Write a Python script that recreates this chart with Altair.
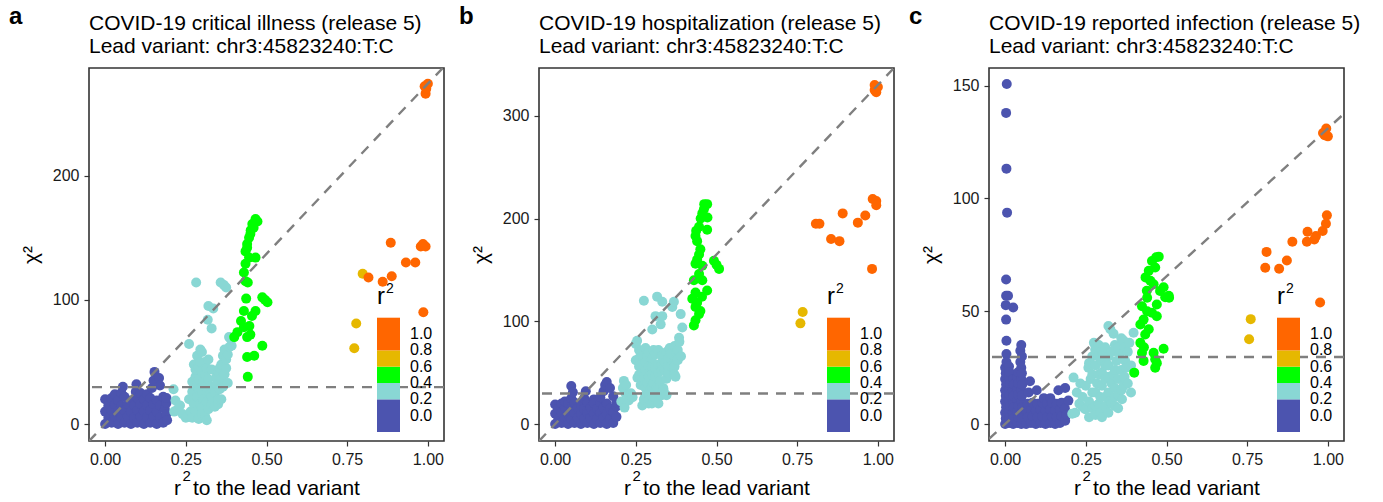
import altair as alt
import pandas as pd

FONT = "Liberation Sans"
COLORS = ["#4C54AF", "#89D7D4", "#00FF00", "#E6B800", "#FF6600"]
THRESHOLDS = [0.2, 0.4, 0.6, 0.8]
X_TICKS = [0, 0.25, 0.5, 0.75, 1.0]
X_DOMAIN = [-0.05, 1.05]
GW_CHI2 = 29.72

TITLES = ["COVID-19 critical illness (release 5)",
          "COVID-19 hospitalization (release 5)",
          "COVID-19 reported infection (release 5)"]
LEAD = "Lead variant: chr3:45823240:T:C"
LETTERS = ["a", "b", "c"]
X_TITLE = ["r", "2", "to the lead variant"]
Y_TITLE = "χ²"
Y_TICKS = [[0, 100, 200], [0, 100, 200, 300], [0, 50, 100, 150]]
Y_DOMAINS = [[-13.65, 286.65], [-16.5, 346.5], [-7.5, 157.8]]
DIAG_X = [-0.05, 1.05]
DIAG_SLOPES = [274, 330, 131]

# ---------------- panel a: critical illness ----------------
A_BLUE = [(0.00,0),(0.02,1),(0.04,0),(0.06,1),(0.08,0),(0.10,1),(0.12,0),(0.14,1),(0.16,0),(0.18,1),(0.192,3),
          (0.01,5),(0.03,6),(0.05,5),(0.07,6),(0.09,5),(0.11,6),(0.13,5),(0.15,6),(0.17,5),(0.19,8),
          (0.00,10),(0.02,11),(0.04,10),(0.06,11),(0.08,10),(0.10,11),(0.12,10),(0.14,11),(0.16,10),(0.185,12),
          (0.01,15),(0.03,16),(0.05,15),(0.07,16),(0.09,15),(0.11,16),(0.13,15),(0.15,16),(0.17,15),(0.19,17),
          (0.00,20),(0.02,21),(0.04,19),(0.06,22),(0.08,19),(0.10,21),(0.12,20),(0.14,21),(0.16,19),(0.18,22),
          (0.03,24),(0.05,25),(0.055,30),(0.095,26),(0.097,32),(0.11,25),(0.13,24),(0.145,29),(0.15,35),
          (0.153,42),(0.167,37),(0.17,31),(0.19,21)]
A_CYAN = [(0.212,28),(0.218,19),(0.225,12),(0.24,8),(0.232,15),(0.25,5),(0.214,10),
          (0.27,5),(0.28,10),(0.29,4),(0.30,8),(0.31,6),(0.32,12),(0.275,16),(0.285,22),(0.295,16),
          (0.305,20),(0.315,18),(0.30,26),(0.285,30),(0.31,30),(0.27,34),(0.29,36),(0.30,42),(0.28,44),
          (0.31,40),(0.275,48),(0.295,50),(0.285,55),(0.30,58),(0.32,52),(0.27,26),
          (0.33,22),(0.34,25),(0.35,20),(0.355,28),(0.345,32),(0.36,36),(0.37,40),(0.35,42),(0.36,48),
          (0.375,52),(0.38,56),(0.385,62),(0.39,68),(0.37,60),(0.355,45),(0.34,14),(0.35,16),(0.38,33),
          (0.325,30),(0.33,44),
          (0.265,10),(0.275,20),(0.29,28),(0.305,34),(0.315,45),(0.29,46),(0.32,36),(0.325,24),(0.28,38),
          (0.295,60),(0.31,50),(0.30,13),(0.315,3),(0.26,20),(0.33,16),(0.345,38),(0.365,30),(0.36,20),
          (0.375,45),(0.365,55),
          (0.26,64.5),(0.282,114),(0.358,114),(0.368,112),(0.375,110),(0.32,95),(0.335,93),(0.318,84),
          (0.33,77),(0.384,70),(0.392,63)]
A_GREEN = [(0.466,165),(0.472,163),(0.456,161),(0.451,156),(0.446,150),(0.44,145),(0.435,139),(0.446,134),
           (0.466,134),(0.435,129),(0.43,122),(0.435,115),(0.46,158),(0.45,153),(0.44,142),
           (0.442,114),(0.437,101),(0.487,102),(0.503,98),(0.43,91),(0.466,91),(0.421,83),(0.447,79),
           (0.41,74),(0.40,70),(0.44,70),(0.487,63),(0.462,55),(0.44,54),(0.442,38),(0.455,87),(0.43,78),
           (0.45,72),(0.495,100)]
A_YELLOW = [(0.798,121),(0.778,81),(0.772,61)]
A_ORANGE = [(0.99,272),(0.995,270),(0.993,266),(1.0,274),(0.885,146),(0.978,143),(0.993,143),(0.985,145),
            (0.932,130),(0.961,130),(0.816,118),(0.86,114.5),(0.888,119),(0.986,90)]

# ---------------- panel b: hospitalization ----------------
B_BLUE = [(0.00,0),(0.02,1),(0.04,0),(0.06,1),(0.08,0),(0.10,1),(0.12,0),(0.14,1),(0.16,0),(0.18,1),
          (0.01,5),(0.03,6),(0.05,5),(0.07,6),(0.09,5),(0.11,6),(0.13,5),(0.15,6),(0.17,5),(0.19,7),
          (0.00,10),(0.02,11),(0.04,10),(0.06,11),(0.08,10),(0.10,11),(0.12,10),(0.14,11),(0.16,10),(0.18,12),
          (0.01,15),(0.03,16),(0.05,15),(0.07,16),(0.09,15),(0.11,16),(0.13,15),(0.15,16),(0.17,15),(0.19,17),
          (0.00,19),(0.02,20),(0.04,20),(0.06,21),(0.08,19),(0.10,21),(0.12,20),(0.14,21),(0.16,20),
          (0.05,25),(0.055,31),(0.05,37),(0.09,25),(0.095,32),(0.14,26),(0.15,32),(0.155,38),(0.16,41),
          (0.17,35),(0.18,27),(0.19,21),(0.12,24),(0.03,22)]
B_CYAN = [(0.25,78),(0.26,72),(0.27,66),(0.28,74),(0.29,70),(0.30,64),(0.31,68),(0.32,72),(0.33,66),(0.34,60),
          (0.35,64),(0.36,68),(0.37,76),(0.385,80),(0.375,70),(0.36,56),(0.35,50),(0.37,48),(0.38,62),(0.39,66),
          (0.345,44),(0.33,52),(0.32,58),(0.31,54),(0.30,48),(0.29,56),(0.28,60),(0.27,50),(0.26,56),(0.25,62),
          (0.255,45),(0.265,38),(0.275,44),(0.285,40),(0.295,34),(0.305,40),(0.315,36),(0.325,42),(0.335,35),
          (0.345,28),(0.33,28),(0.31,26),(0.29,24),(0.28,28),(0.27,18),(0.30,20),(0.32,20),(0.336,33),
          (0.373,46),(0.378,63),(0.368,55),
          (0.26,64),(0.27,58),(0.28,52),(0.29,46),(0.30,56),(0.31,46),(0.32,50),(0.33,58),(0.34,52),(0.35,57),
          (0.36,62),(0.37,56),(0.28,35),(0.29,30),(0.30,36),(0.31,31),(0.32,34),(0.325,28),(0.30,27),
          (0.26,48),(0.265,70),(0.285,66),(0.305,72),(0.345,70),(0.355,74),(0.38,72),(0.29,20),(0.275,24),
          (0.213,42),(0.218,30),(0.228,23),(0.21,35),(0.22,38),(0.235,30),(0.24,26),(0.205,22),(0.215,16),
          (0.275,120),(0.316,124),(0.332,119),(0.368,119),(0.363,114),(0.311,105),(0.332,105),(0.301,92),
          (0.327,97),(0.389,107),(0.394,94),(0.384,84),(0.254,81)]
B_GREEN = [(0.471,214),(0.461,209),(0.456,205),(0.462,214),(0.451,200),(0.446,192),(0.471,189),(0.435,183),
           (0.44,178),(0.472,201),(0.437,188),(0.446,165),(0.435,156),(0.456,154),(0.492,159),(0.508,151),
           (0.50,155),(0.446,146),(0.43,140),(0.456,140),(0.471,130),(0.435,128),(0.425,122),(0.435,114),
           (0.446,107),(0.435,101),(0.43,96),(0.44,118),(0.45,110),(0.455,124),(0.44,160),(0.45,170)]
B_YELLOW = [(0.767,109),(0.76,98)]
B_ORANGE = [(0.99,330),(1.0,328),(0.99,325),(0.995,323),(0.984,219),(0.995,213),(0.995,217),(0.891,205),
            (0.961,203),(0.938,196),(0.808,195),(0.819,195),(0.855,180),(0.881,178),(0.982,151)]

# ---------------- panel c: reported infection ----------------
C_BLUE = [(0.005,150.7),(0.003,137.9),(0.004,113.2),(0.006,93.7),(0.003,64.1),(0.003,56.9),(0.009,56.9),
          (0.002,52.7),(0.025,51.7),(0.003,46.3),(0.004,36.9),(0.004,31),
          (0.0,0),(0.012,0.5),(0.025,0),(0.038,0.5),(0.05,0),
          (0.002,2.5),(0.014,3),(0.026,2.5),(0.04,3),(0.052,2.5),
          (0.0,5),(0.012,5.5),(0.024,5),(0.037,5.5),(0.05,5),
          (0.003,7.5),(0.015,8),(0.027,7.5),(0.04,8),(0.053,7.5),
          (0.0,10),(0.012,10.5),(0.025,10),(0.038,10.5),(0.05,10),
          (0.002,12.5),(0.014,13),(0.026,12.5),(0.04,13),(0.052,12.5),
          (0.0,15),(0.012,15.5),(0.024,15),(0.038,15.5),(0.05,15),
          (0.003,17.5),(0.015,18),(0.027,17.5),(0.04,18),(0.053,17.5),
          (0.0,20),(0.012,20.5),(0.025,20),(0.038,20.5),(0.05,20),
          (0.002,22.5),(0.014,23),(0.04,23),(0.052,22.5),
          (0.0,25),(0.012,25.5),(0.05,25),(0.004,27.5),(0.047,27.5),(0.052,30),(0.047,32.5),(0.05,35),
          (0.065,0),(0.08,0.5),(0.095,0),(0.11,0.5),(0.125,0),(0.14,0.5),(0.155,0),(0.17,0.5),(0.186,1.5),
          (0.07,3),(0.085,3.5),(0.10,3),(0.115,3.5),(0.13,3),(0.145,3.5),(0.16,3),(0.175,3.5),(0.19,4),
          (0.065,6),(0.08,6.5),(0.095,6),(0.11,6.5),(0.125,6),(0.14,6.5),(0.155,6),(0.17,6.5),(0.185,7),
          (0.07,9),(0.085,9.5),(0.10,9),(0.115,9.5),(0.13,9),(0.145,9.5),(0.16,9),(0.175,9.5),(0.196,10.4),
          (0.077,19),(0.073,14),(0.098,15),(0.165,15),(0.186,16),(0.12,11.5),(0.14,11.5)]
C_CYAN = [(0.326,42),(0.32,43.5),(0.336,40),(0.398,40.5),(0.367,37),(0.279,33),(0.305,31),
          (0.212,20.6),(0.222,14),(0.217,5),(0.23,9),(0.24,12),(0.248,6.6),(0.26,10),(0.27,14),(0.25,17),
          (0.258,25),(0.265,20),(0.28,26),(0.27,30),(0.285,18),(0.29,22),(0.30,28),(0.295,12),(0.295,5),
          (0.31,8),(0.32,14),(0.31,20),(0.32,26),(0.33,32),(0.335,22),(0.34,16),(0.35,20),(0.345,28),
          (0.36,24),(0.362,11),(0.367,17),(0.372,28),(0.38,32),(0.39,26),(0.37,34),(0.35,34),(0.31,34),
          (0.288,30),(0.325,10),(0.34,8),(0.28,8),(0.35,13),(0.233,18),(0.208,4.6),(0.24,7.6),
          (0.26,3),(0.27,7),(0.28,4),(0.29,9),(0.30,3),(0.31,12),(0.32,5),(0.33,9),(0.34,12),(0.35,7),
          (0.36,15),(0.37,21),(0.38,18),(0.39,14),(0.33,18),(0.32,21),(0.30,17),(0.28,14),(0.27,22),
          (0.26,27),(0.275,36),(0.29,35),(0.30,32),(0.32,30),(0.34,24),(0.355,31),(0.375,25),(0.385,36),
          (0.36,38),(0.34,35),(0.30,23),(0.31,26)]
C_GREEN = [(0.476,74.2),(0.468,73.9),(0.455,72.3),(0.445,67.9),(0.465,69.4),(0.45,63.5),(0.439,59.1),
           (0.491,60.6),(0.507,56.9),(0.496,56.2),(0.508,56),(0.424,52.2),(0.455,49.3),(0.47,47.8),
           (0.419,44.1),(0.429,46.3),(0.434,39.7),(0.419,36),(0.424,31.6),(0.491,33.4),(0.46,31.6),
           (0.465,28.7),(0.429,28),(0.465,25),(0.40,22.8),(0.44,56),(0.46,62),(0.445,42),(0.43,34),
           (0.47,27),(0.47,53),(0.48,59),(0.44,50),(0.435,65)]
C_YELLOW = [(0.761,46.5),(0.756,37.6)]
C_ORANGE = [(0.995,131),(0.985,129),(1.0,127.5),(0.99,128),(0.997,92.5),(0.994,88.8),(0.984,85.6),
            (0.963,83.3),(0.937,85.2),(0.935,80.8),(0.958,81.8),(0.89,80.8),(0.81,76.3),(0.806,69.3),
            (0.849,68.8),(0.873,72.5),(0.976,53.9)]

PANEL_POINTS = [A_BLUE + A_CYAN + A_GREEN + A_YELLOW + A_ORANGE,
                B_BLUE + B_CYAN + B_GREEN + B_YELLOW + B_ORANGE,
                C_BLUE + C_CYAN + C_GREEN + C_YELLOW + C_ORANGE]

# legend (ggplot colour-steps style)
LEG_LO = [0, 2, 3, 4, 5]
LEG_HI = [2, 3, 4, 5, 7]
LEG_MID = [0.1, 0.3, 0.5, 0.7, 0.9]
LEG_LABELS = ["0.0", "0.2", "0.4", "0.6", "0.8", "1.0"]
LEG_LABEL_POS = [1, 2, 3, 4, 5, 6]

W, H = 355, 373
DASH_COLOR = "#7f7f7f"


def txt(s, x, y, size, weight="normal"):
    return alt.Chart(pd.DataFrame({"k": [0]})).mark_text(
        align="left", baseline="alphabetic", font=FONT, fontSize=size, fontWeight=weight,
        color="black", text=s).encode(x=alt.value(x), y=alt.value(y))


def panel(i):
    df = pd.DataFrame(PANEL_POINTS[i], columns=["r2", "chi2"]).sort_values("r2")
    xs = alt.Scale(domain=X_DOMAIN, nice=False, zero=False)
    ys = alt.Scale(domain=Y_DOMAINS[i], nice=False, zero=False)
    cs = alt.Scale(type="threshold", domain=THRESHOLDS, range=COLORS)
    ls = alt.Scale(domain=[0, 7], range=[364, 249.7], nice=False, zero=False)

    points = alt.Chart(df).mark_circle(size=100, opacity=1).encode(
        x=alt.X("r2:Q", scale=xs, axis=alt.Axis(values=X_TICKS, format=".2f", title=None, labelFlush=False)),
        y=alt.Y("chi2:Q", scale=ys, axis=alt.Axis(values=Y_TICKS[i], title=Y_TITLE)),
        color=alt.Color("r2:Q", scale=cs, legend=None),
        order=alt.Order("r2:Q"),
    )
    diag_df = pd.DataFrame({"r2": DIAG_X, "chi2": [DIAG_SLOPES[i] * v for v in DIAG_X]})
    diag = alt.Chart(diag_df).mark_line(clip=True, color=DASH_COLOR, strokeWidth=2.4,
                                        strokeDash=[10, 8]).encode(
        x=alt.X("r2:Q", scale=xs), y=alt.Y("chi2:Q", scale=ys))
    hline = alt.Chart(pd.DataFrame({"chi2": [GW_CHI2]})).mark_rule(
        color=DASH_COLOR, strokeWidth=2.4, strokeDash=[10, 8]).encode(y=alt.Y("chi2:Q", scale=ys))
    data_layer = alt.layer(points, diag, hline)

    leg_df = pd.DataFrame({"lo": LEG_LO, "hi": LEG_HI, "mid": LEG_MID})
    lab_df = pd.DataFrame({"label": LEG_LABELS, "pos": LEG_LABEL_POS})
    leg_rect = alt.Chart(leg_df).mark_rect().encode(
        x=alt.value(288), x2=alt.value(311),
        y=alt.Y("lo:Q", scale=ls, axis=None), y2="hi:Q",
        color=alt.Color("mid:Q", scale=cs, legend=None))
    leg_text = alt.Chart(lab_df).mark_text(align="left", baseline="middle", font=FONT, fontSize=16,
                                           color="black").encode(
        x=alt.value(321), y=alt.Y("pos:Q", scale=ls, axis=None), text="label:N")
    annotations = [
        txt("r", 288, 236, 24),
        txt("2", 297, 225, 14),
        txt(LETTERS[i], -80, -44, 24, "bold"),
        txt(TITLES[i], 0, -38, 21),
        txt(LEAD, 0, -15, 21),
        txt(X_TITLE[0], 85, 427, 21),
        txt(X_TITLE[1], 93.5, 413, 15),
        txt(X_TITLE[2], 104, 427, 21),
    ]
    legend = alt.layer(leg_rect, leg_text, *annotations)

    return alt.layer(data_layer, legend).resolve_scale(y="independent").properties(width=W, height=H)


chart = alt.hconcat(panel(0), panel(1), panel(2), spacing=95, bounds="flush").properties(
    padding={"left": 8, "top": 4, "right": 5, "bottom": 2}
).configure_view(stroke="#333333", strokeWidth=1.6).configure_axis(
    domain=False, grid=False, tickColor="#333333", tickWidth=1.2, tickSize=5,
    labelFont=FONT, labelFontSize=16, labelColor="#1a1a1a", labelPadding=5,
    titleFont=FONT, titleFontSize=21, titleFontWeight="normal", titleColor="black"
).configure_axisX(titlePadding=10).configure_axisY(titlePadding=11)

chart.save("out.html", embed_options={"renderer": "svg", "actions": False})
